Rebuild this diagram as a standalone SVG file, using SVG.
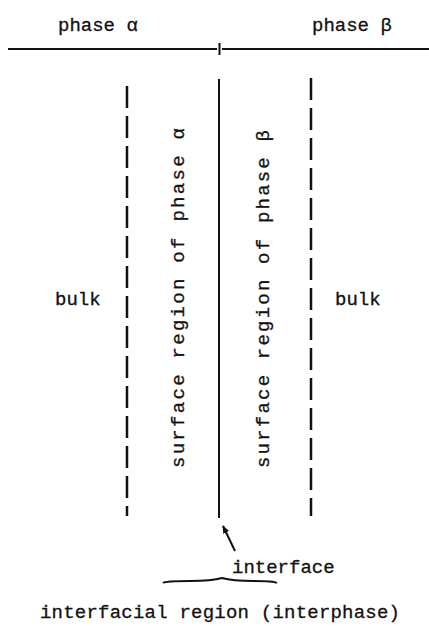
<svg xmlns="http://www.w3.org/2000/svg" width="429" height="626" viewBox="0 0 429 626">
<style>
text{font-family:"Liberation Mono","DejaVu Sans Mono",monospace;font-size:19px;fill:#111;stroke:#111;stroke-width:0.3}
.ln{stroke:#111;stroke-width:2;fill:none}
.dash{stroke:#111;stroke-width:2.5;fill:none;stroke-dasharray:22 8}
</style>
<defs>
<marker id="ah" viewBox="0 0 10 10" refX="9" refY="5" markerWidth="8" markerHeight="8" orient="auto" markerUnits="userSpaceOnUse">
<path d="M0,1 L10,5 L0,9 z" fill="#111"/>
</marker>
</defs>
<g id="phase-labels">
<text x="58" y="31">phase α</text>
<text x="312" y="31">phase β</text>
</g>
<g id="top-line">
<path class="ln" d="M8,49 H217 M222,49 H429"/>
<path class="ln" d="M219.5,43 V55" stroke-width="1.2"/>
</g>
<g id="boundaries">
<path class="dash" d="M127,86 V516"/>
<path class="ln" d="M219,79 V518"/>
<path class="dash" d="M311,78 V516"/>
</g>
<g id="bulk-alpha"><text x="55" y="305">bulk</text></g>
<g id="bulk-beta"><text x="335" y="305">bulk</text></g>
<g id="surface-alpha"><text transform="translate(184,468) rotate(-90)" textLength="340" lengthAdjust="spacing">surface region of phase α</text></g>
<g id="surface-beta"><text transform="translate(269,468) rotate(-90)" textLength="338" lengthAdjust="spacing">surface region of phase β</text></g>
<g id="connectors">
<path class="ln" d="M235,551 L223,526" stroke-width="1.6" marker-end="url(#ah)"/>
</g>
<g id="interface-label"><text x="232" y="573">interface</text></g>
<g id="brace">
<path class="ln" d="M163,583 Q165,581 190,581 Q212,581 222,578 Q232,581 254,581 Q274,581 277,583" stroke-width="2"/>
</g>
<g id="interphase-label"><text x="40" y="618" textLength="360" lengthAdjust="spacing">interfacial region (interphase)</text></g>
</svg>
